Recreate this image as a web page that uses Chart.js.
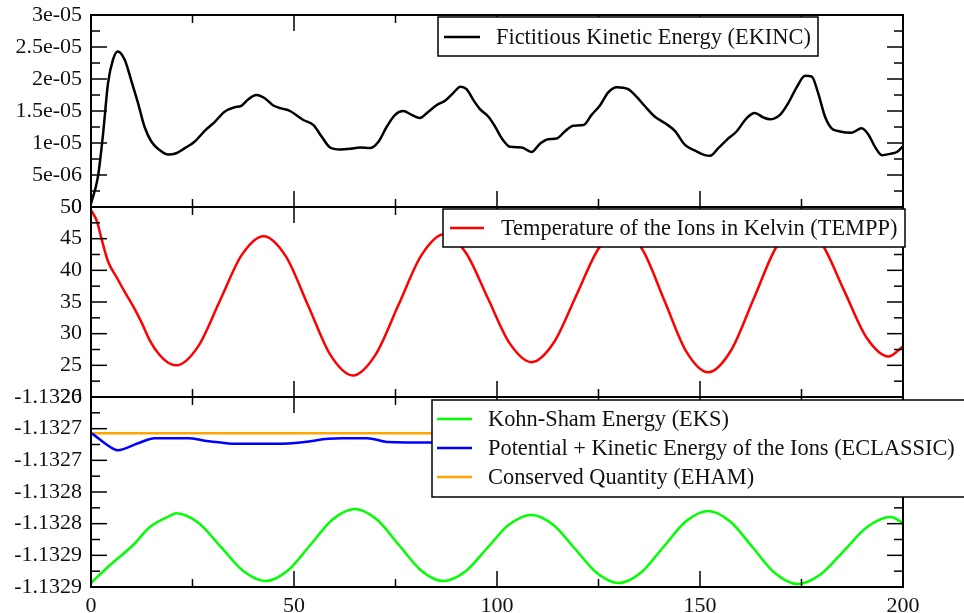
<!DOCTYPE html>
<html>
<head>
<meta charset="utf-8">
<script src="https://cdn.jsdelivr.net/npm/chart.js@4/dist/chart.umd.min.js"></script>
<style>
  body { margin: 0; background: #fff; }
  #wrap { position: relative; width: 964px; height: 613px; }
  #wrap canvas { position: absolute; left: 0; top: 0; width: 964px; height: 613px; }
</style>
</head>
<body>
<div id="wrap">
  <canvas id="c_ekinc" width="964" height="613"></canvas>
  <canvas id="c_temp" width="964" height="613"></canvas>
  <canvas id="c_energy" width="964" height="613"></canvas>
</div>
<script>
// shared x axis
const xMajor = [0, 50, 100, 150, 200];
const xMinor = [25, 75, 125, 175];
const xLabels = ['0', '50', '100', '150', '200'];

// top panel: fictitious kinetic energy
const ekincTicks = [0, 5e-6, 1e-5, 1.5e-5, 2e-5, 2.5e-5, 3e-5];
const ekincTickLabels = ['0', '5e-06', '1e-05', '1.5e-05', '2e-05', '2.5e-05', '3e-05'];
const ekincMinor = [2.5e-6, 7.5e-6, 1.25e-5, 1.75e-5, 2.25e-5, 2.75e-5];
const ekincX = [0, 1.7, 3.0, 4.2, 5.4, 6.6, 8.3, 9.9, 11.6, 13.2, 14.9, 16.9, 19.0, 21.0, 23.1, 25.5, 28.0, 30.5, 32.9, 35.4,
  37.0, 38.7, 40.7, 42.8, 44.8, 46.9, 49.0, 52.3, 54.8, 56.8, 58.9, 61.3, 63.8, 66.3, 68.7, 70.8, 72.8, 74.9, 76.9, 79.0,
  81.0, 83.1, 85.1, 87.2, 89.2, 91.0, 92.5, 94.2, 95.8, 97.9, 99.5, 101.2, 103.2, 106.1, 108.5, 110.6, 112.6, 114.7, 116.7, 118.8,
  121.3, 123.3, 125.4, 127.4, 129.5, 132.3, 134.4, 136.5, 138.9, 141.4, 143.8, 146.3, 148.8, 151.2, 152.5, 154.5, 156.6, 159.0, 161.5, 163.5,
  165.6, 167.2, 169.7, 171.7, 173.8, 175.9, 177.5, 179.1, 180.8, 182.4, 184.5, 187.3, 189.8, 191.5, 193.1, 194.8, 196.8, 198.5, 200];
const ekincY = [0.05e-5, 0.47e-5, 1.16e-5, 1.94e-5, 2.30e-5, 2.43e-5, 2.30e-5, 1.98e-5, 1.62e-5, 1.25e-5, 1.02e-5, 0.89e-5, 0.82e-5, 0.84e-5, 0.92e-5, 1.02e-5, 1.19e-5, 1.33e-5, 1.49e-5, 1.56e-5,
  1.58e-5, 1.68e-5, 1.75e-5, 1.70e-5, 1.59e-5, 1.54e-5, 1.50e-5, 1.36e-5, 1.28e-5, 1.10e-5, 0.93e-5, 0.90e-5, 0.91e-5, 0.93e-5, 0.92e-5, 1.02e-5, 1.25e-5, 1.44e-5, 1.50e-5, 1.44e-5,
  1.39e-5, 1.49e-5, 1.59e-5, 1.66e-5, 1.78e-5, 1.88e-5, 1.84e-5, 1.67e-5, 1.53e-5, 1.41e-5, 1.26e-5, 1.07e-5, 0.94e-5, 0.93e-5, 0.86e-5, 0.99e-5, 1.06e-5, 1.07e-5, 1.18e-5, 1.27e-5,
  1.28e-5, 1.44e-5, 1.59e-5, 1.79e-5, 1.87e-5, 1.84e-5, 1.72e-5, 1.57e-5, 1.41e-5, 1.31e-5, 1.19e-5, 0.97e-5, 0.88e-5, 0.81e-5, 0.80e-5, 0.92e-5, 1.05e-5, 1.18e-5, 1.39e-5, 1.47e-5,
  1.40e-5, 1.37e-5, 1.44e-5, 1.62e-5, 1.87e-5, 2.05e-5, 2.04e-5, 1.78e-5, 1.41e-5, 1.23e-5, 1.18e-5, 1.16e-5, 1.23e-5, 1.13e-5, 0.94e-5, 0.81e-5, 0.83e-5, 0.86e-5, 0.95e-5];

// middle panel: ion temperature
const tempTicks = [20, 25, 30, 35, 40, 45, 50];
const tempTickLabels = ['20', '25', '30', '35', '40', '45', '50'];
const tempMinor = [22.5, 27.5, 32.5, 37.5, 42.5, 47.5];
const tempX = [0, 1.5, 2.5, 4.2, 6.4, 8.3, 10.4, 12.5, 14.5, 16.8, 19, 21, 26.4, 31.75, 37.1, 42.5, 48, 53.5, 59, 64.5,
  70.1, 75.75, 81.4, 87, 92.4, 97.75, 103.1, 108.5, 114, 119.5, 125, 130.5, 135.9, 141.25, 146.6, 152, 157.6, 163.25, 168.9, 174.5,
  180, 185.5, 191, 196.5, 200];
const tempY = [49.5, 47.7, 45.2, 41.4, 38.8, 36.6, 34.3, 31.7, 28.9, 26.7, 25.4, 25.0, 28.0, 35.2, 42.4, 45.4, 42.2, 34.4, 26.6, 23.4,
  26.7, 34.55, 42.4, 45.7, 42.7, 35.6, 28.5, 25.5, 28.6, 36.0, 43.4, 46.5, 43.2, 35.2, 27.2, 23.9, 27.3, 35.55, 43.8, 47.2,
  44.2, 36.8, 29.4, 26.4, 28.0];

// bottom panel: energies
const energyTicks = [-1.1329, -1.13285, -1.1328, -1.13275, -1.1327, -1.13265, -1.1326];
const energyTickLabels = ['-1.1329', '-1.1329', '-1.1328', '-1.1328', '-1.1327', '-1.1327', '-1.1326'];
const energyMinor = [-1.132875, -1.132825, -1.132775, -1.132725, -1.132675, -1.132625];
const eksX = [0, 4.7, 10.4, 14.5, 19.9, 21, 26.5, 32, 37.5, 43, 48.5, 54, 59.5, 65, 70.4, 75.85, 81.3, 86.7, 92.2, 97.6,
  103, 108.5, 113.9, 119.25, 124.6, 130, 135.5, 141, 146.5, 152, 157.5, 163, 168.5, 174, 179.75, 185.5, 191.25, 197, 200];
const eksY = [-1.1328937, -1.1328653, -1.1328337, -1.1328053, -1.1327863, -1.1327836, -1.132799, -1.1328368, -1.1328747, -1.1328905,
  -1.1328739, -1.1328337, -1.1327934, -1.1327768, -1.1327934, -1.1328337, -1.1328739, -1.1328905, -1.1328754, -1.1328384,
  -1.1328015, -1.1327863, -1.1328021, -1.13284, -1.1328779, -1.1328937, -1.1328771, -1.1328368, -1.1327966, -1.13278,
  -1.1327969, -1.1328376, -1.1328784, -1.1328953, -1.1328798, -1.1328424, -1.1328049, -1.1327895, -1.132799];
const eclassicX = [0, 0.5, 3.4, 6.6, 11.6, 15.7, 24, 28, 32, 36, 46, 52.6, 58.4, 62, 68, 73, 84, 100, 120, 140, 160, 180, 200];
const eclassicY = [-1.1326573, -1.132659, -1.132673, -1.132684, -1.132673, -1.132665, -1.132665, -1.132669, -1.132672, -1.132674,
  -1.132674, -1.132671, -1.132666, -1.132665, -1.132665, -1.132671, -1.132672, -1.13267, -1.132668, -1.132671, -1.132669, -1.13267, -1.132668];
const ehamX = [0, 200];
const ehamY = [-1.1326573, -1.1326573];

const FONT = "'Liberation Serif', 'DejaVu Serif', serif";
Chart.defaults.font.family = FONT;
Chart.defaults.color = '#000';

const pts = (xs, ys) => xs.map((x, i) => ({ x: x, y: ys[i] }));

// box + inward ticks on all four sides
const makeFrame = (majorY, minorY) => ({
  id: 'frame',
  afterDraw(chart) {
    const ctx = chart.ctx, a = chart.chartArea;
    const sx = chart.scales.x, sy = chart.scales.y;
    const line = (x1, y1, x2, y2) => { ctx.beginPath(); ctx.moveTo(x1, y1); ctx.lineTo(x2, y2); ctx.stroke(); };
    ctx.save();
    ctx.strokeStyle = '#000';
    ctx.lineWidth = 1.5;
    xMajor.forEach(v => { const p = sx.getPixelForValue(v); line(p, a.top, p, a.top + 16); line(p, a.bottom, p, a.bottom - 16); });
    xMinor.forEach(v => { const p = sx.getPixelForValue(v); line(p, a.top, p, a.top + 8); line(p, a.bottom, p, a.bottom - 8); });
    majorY.forEach(v => { const p = sy.getPixelForValue(v); line(a.left, p, a.left + 16, p); line(a.right, p, a.right - 16, p); });
    minorY.forEach(v => { const p = sy.getPixelForValue(v); line(a.left, p, a.left + 9, p); line(a.right, p, a.right - 9, p); });
    ctx.lineWidth = 2;
    ctx.strokeRect(a.left, a.top, a.right - a.left, a.bottom - a.top);
    ctx.restore();
  }
});

// legend box drawn over the data, like the original
const makeLegend = (box) => ({
  id: 'boxLegend',
  afterDraw(chart) {
    const ctx = chart.ctx;
    ctx.save();
    ctx.fillStyle = '#fff';
    ctx.fillRect(box.left, box.top, box.right - box.left, box.bottom - box.top);
    ctx.strokeStyle = '#000';
    ctx.lineWidth = 1.5;
    ctx.strokeRect(box.left, box.top, box.right - box.left, box.bottom - box.top);
    ctx.font = '22.4px ' + FONT;
    ctx.textBaseline = 'middle';
    chart.data.datasets.forEach((ds, i) => {
      const y = box.rows[i];
      ctx.strokeStyle = ds.borderColor;
      ctx.lineWidth = 2.5;
      ctx.beginPath(); ctx.moveTo(box.lineX1, y); ctx.lineTo(box.lineX2, y); ctx.stroke();
      ctx.fillStyle = '#111';
      ctx.fillText(ds.label, box.textX, y + 1);
    });
    ctx.restore();
  }
});

const lineDs = (label, color, data) => ({
  label: label, data: data, borderColor: color, backgroundColor: color,
  borderWidth: 2.5, pointRadius: 0, cubicInterpolationMode: 'monotone', fill: false
});

const yScale = (min, max, ticks, labels) => ({
  type: 'linear', min: min, max: max,
  grid: { display: false, drawTicks: false },
  border: { display: false },
  afterBuildTicks: s => { s.ticks = ticks.map(v => ({ value: v })); },
  afterFit: s => { s.width = 91; s.paddingTop = 0; s.paddingBottom = 0; },
  ticks: { autoSkip: false, padding: 9, font: { size: 22 }, color: '#111', callback: (v, i) => labels[i] }
});

const xScale = (show) => ({
  type: 'linear', min: 0, max: 200, display: show,
  grid: { display: false, drawTicks: false },
  border: { display: false },
  afterBuildTicks: s => { s.ticks = xMajor.map(v => ({ value: v })); },
  afterFit: s => { s.height = show ? 26 : 0; s.paddingLeft = 0; s.paddingRight = 0; },
  ticks: { autoSkip: false, maxRotation: 0, padding: 6, font: { size: 22 }, color: '#111', callback: (v, i) => xLabels[i] }
});

const baseOptions = (top, bottom, yOpts, showX) => ({
  responsive: false,
  animation: false,
  devicePixelRatio: 1,
  layout: { padding: { left: 0, right: 61, top: top, bottom: bottom } },
  plugins: { legend: { display: false }, tooltip: { enabled: false } },
  events: [],
  scales: { x: xScale(showX), y: yOpts }
});

new Chart(document.getElementById('c_ekinc'), {
  type: 'line',
  data: { datasets: [lineDs('Fictitious Kinetic Energy (EKINC)', '#000000', pts(ekincX, ekincY))] },
  options: baseOptions(15, 406, yScale(0, 3e-5, ekincTicks, ekincTickLabels), false),
  plugins: [makeFrame(ekincTicks, ekincMinor),
    makeLegend({ left: 438, top: 17, right: 818, bottom: 56, lineX1: 444, lineX2: 480, textX: 496, rows: [37] })]
});

new Chart(document.getElementById('c_temp'), {
  type: 'line',
  data: { datasets: [lineDs('Temperature of the Ions in Kelvin (TEMPP)', '#ff0000', pts(tempX, tempY))] },
  options: baseOptions(207, 216, yScale(20, 50, tempTicks, tempTickLabels), false),
  plugins: [makeFrame(tempTicks, tempMinor),
    makeLegend({ left: 443, top: 209, right: 905, bottom: 247, lineX1: 450, lineX2: 484, textX: 501, rows: [228] })]
});

new Chart(document.getElementById('c_energy'), {
  type: 'line',
  data: {
    datasets: [
      lineDs('Kohn-Sham Energy (EKS)', '#00ff00', pts(eksX, eksY)),
      lineDs('Potential + Kinetic Energy of the Ions (ECLASSIC)', '#0000ff', pts(eclassicX, eclassicY)),
      lineDs('Conserved Quantity (EHAM)', '#ffa500', pts(ehamX, ehamY))
    ]
  },
  options: baseOptions(397, 0, yScale(-1.1329, -1.1326, energyTicks, energyTickLabels), true),
  plugins: [makeFrame(energyTicks, energyMinor),
    makeLegend({ left: 432, top: 400, right: 980, bottom: 497, lineX1: 437, lineX2: 472, textX: 488, rows: [419, 448, 477] })]
});
</script>
</body>
</html>
